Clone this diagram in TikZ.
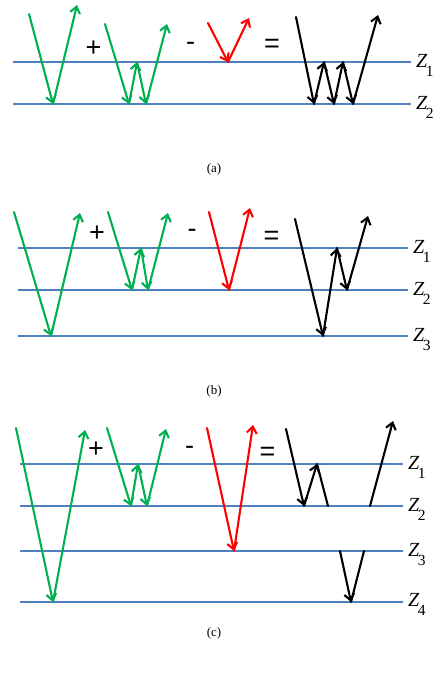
\documentclass[tikz,border=0pt]{standalone}
\usepackage{fontspec}
\setmainfont{Liberation Serif}
\newfontfamily\opfont{Liberation Sans}
\usetikzlibrary{arrows.meta}
\definecolor{lineblue}{RGB}{79,129,189}
\definecolor{wgreen}{RGB}{0,176,80}
\definecolor{wred}{RGB}{255,0,0}
\tikzset{
  layer/.style={draw=lineblue, line width=2pt},
  ray/.style={line width=2.1pt, line cap=round},
  tip/.style={-{Straight Barb[length=6.5pt,width=10pt]}},
  grn/.style={ray, draw=wgreen},
  rd/.style={ray, draw=wred},
  blk/.style={ray, draw=black},
  op/.style={inner sep=0pt, font=\opfont\fontsize{27}{30}\selectfont},
  zlab/.style={anchor=base west, inner sep=0pt, font=\fontsize{20}{22}\selectfont},
  captext/.style={inner sep=0pt, font=\fontsize{13}{15}\selectfont}
}
\newcommand{\zl}[1]{\textit{Z}\kern-1.5pt\raisebox{-9pt}{\fontsize{15.5}{17}\selectfont #1}}
\begin{document}
\begin{tikzpicture}[x=1pt,y=-1pt]
\useasboundingbox (0,0) rectangle (435,673);
% ================= (a) =================
\draw[layer] (13,62) -- (411,62) coordinate (a1);
\draw[layer] (13,104) -- (411,104) coordinate (a2);
\node[zlab] (za1) at ([xshift=5pt,yshift=-5.5pt]a1) {\zl{1}};
\node[zlab] (za2) at ([xshift=5pt,yshift=-5.5pt]a2) {\zl{2}};
\coordinate (ag1) at (29,14); \coordinate (ag2) at (53,104); \coordinate (ag3) at (77,5);
\draw[grn,tip] (ag1) -- (ag2); \draw[grn,tip] (ag2) -- (ag3);
\coordinate (aw1) at (105,24); \coordinate (aw2) at (129,104); \coordinate (aw3) at (137,62);
\coordinate (aw4) at (146,104); \coordinate (aw5) at (167,24);
\draw[grn,tip] (aw1) -- (aw2); \draw[grn,tip] (aw2) -- (aw3);
\draw[grn,tip] (aw3) -- (aw4); \draw[grn,tip] (aw4) -- (aw5);
\coordinate (ar1) at (208,23); \coordinate (ar2) at (228,62); \coordinate (ar3) at (249,18);
\draw[rd,tip] (ar1) -- (ar2); \draw[rd,tip] (ar2) -- (ar3);
\coordinate (ab1) at (296,17); \coordinate (ab2) at (314,104); \coordinate (ab3) at (324,62);
\coordinate (ab4) at (334,104); \coordinate (ab5) at (343,62); \coordinate (ab6) at (353,104);
\coordinate (ab7) at (378,15);
\draw[blk,tip] (ab1) -- (ab2); \draw[blk,tip] (ab2) -- (ab3); \draw[blk,tip] (ab3) -- (ab4);
\draw[blk,tip] (ab4) -- (ab5); \draw[blk,tip] (ab5) -- (ab6); \draw[blk,tip] (ab6) -- (ab7);
\node[op] (aplus) at (93.5,49) {+};
\node[op] (aminus) at (190.5,46) {-};
\node[op] (aeq) at (272,46) {=};
\node[captext] (capa) at (214,169) {(a)};
% ================= (b) =================
\draw[layer] (18,248) -- (408,248) coordinate (b1);
\draw[layer] (18,290) -- (408,290) coordinate (b2);
\draw[layer] (18,336) -- (408,336) coordinate (b3);
\node[zlab] (zb1) at ([xshift=5pt,yshift=-5.5pt]b1) {\zl{1}};
\node[zlab] (zb2) at ([xshift=5pt,yshift=-5.5pt]b2) {\zl{2}};
\node[zlab] (zb3) at ([xshift=5pt,yshift=-5.5pt]b3) {\zl{3}};
\coordinate (bg1) at (14,212); \coordinate (bg2) at (51,336); \coordinate (bg3) at (80,213);
\draw[grn,tip] (bg1) -- (bg2); \draw[grn,tip] (bg2) -- (bg3);
\coordinate (bw1) at (108,212); \coordinate (bw2) at (132,290); \coordinate (bw3) at (141,248);
\coordinate (bw4) at (148,290); \coordinate (bw5) at (168,213);
\draw[grn,tip] (bw1) -- (bw2); \draw[grn,tip] (bw2) -- (bw3);
\draw[grn,tip] (bw3) -- (bw4); \draw[grn,tip] (bw4) -- (bw5);
\coordinate (br1) at (209,212); \coordinate (br2) at (229,290); \coordinate (br3) at (250,208);
\draw[rd,tip] (br1) -- (br2); \draw[rd,tip] (br2) -- (br3);
\coordinate (bb1) at (295,219); \coordinate (bb2) at (323,336); \coordinate (bb3) at (337,248);
\coordinate (bb4) at (347,290); \coordinate (bb5) at (368,216);
\draw[blk,tip] (bb1) -- (bb2); \draw[blk,tip] (bb2) -- (bb3);
\draw[blk,tip] (bb3) -- (bb4); \draw[blk,tip] (bb4) -- (bb5);
\node[op] (bplus) at (97,234) {+};
\node[op] (bminus) at (192,233) {-};
\node[op] (beq) at (271.5,237.5) {=};
\node[captext] (capb) at (214,391) {(b)};
% ================= (c) =================
\draw[layer] (20,464) -- (403,464) coordinate (c1);
\draw[layer] (20,506) -- (403,506) coordinate (c2);
\draw[layer] (20,551) -- (403,551) coordinate (c3);
\draw[layer] (20,602) -- (403,602) coordinate (c4);
\node[zlab] (zc1) at ([xshift=5pt,yshift=-5pt]c1) {\zl{1}};
\node[zlab] (zc2) at ([xshift=5pt,yshift=-5pt]c2) {\zl{2}};
\node[zlab] (zc3) at ([xshift=5pt,yshift=-5pt]c3) {\zl{3}};
\node[zlab] (zc4) at ([xshift=5pt,yshift=-4pt]c4) {\zl{4}};
\coordinate (cg1) at (16,428); \coordinate (cg2) at (53,602); \coordinate (cg3) at (85,430);
\draw[grn,tip] (cg1) -- (cg2); \draw[grn,tip] (cg2) -- (cg3);
\coordinate (cw1) at (107,428); \coordinate (cw2) at (131,506); \coordinate (cw3) at (138,464);
\coordinate (cw4) at (147,506); \coordinate (cw5) at (166,429);
\draw[grn,tip] (cw1) -- (cw2); \draw[grn,tip] (cw2) -- (cw3);
\draw[grn,tip] (cw3) -- (cw4); \draw[grn,tip] (cw4) -- (cw5);
\coordinate (cr1) at (207,428); \coordinate (cr2) at (234,551); \coordinate (cr3) at (253,425);
\draw[rd,tip] (cr1) -- (cr2); \draw[rd,tip] (cr2) -- (cr3);
\coordinate (cb1) at (286,429); \coordinate (cb2) at (304,506); \coordinate (cb3) at (317,464);
\coordinate (cb4) at (328,506);
\draw[blk,tip] (cb1) -- (cb2); \draw[blk,tip] (cb2) -- (cb3); \draw[blk] (cb3) -- (cb4);
\coordinate (cd1) at (340,551); \coordinate (cd2) at (351,602); \coordinate (cd3) at (364,551);
\draw[blk,tip] (cd1) -- (cd2); \draw[blk] (cd2) -- (cd3);
\coordinate (ce1) at (370,506); \coordinate (ce2) at (393,421);
\draw[blk,tip] (ce1) -- (ce2);
\node[op] (cplus) at (96,450) {+};
\node[op] (cminus) at (189.5,450) {-};
\node[op] (ceq) at (267.5,453.5) {=};
\node[captext] (capc) at (214,633) {(c)};
\end{tikzpicture}
\end{document}
